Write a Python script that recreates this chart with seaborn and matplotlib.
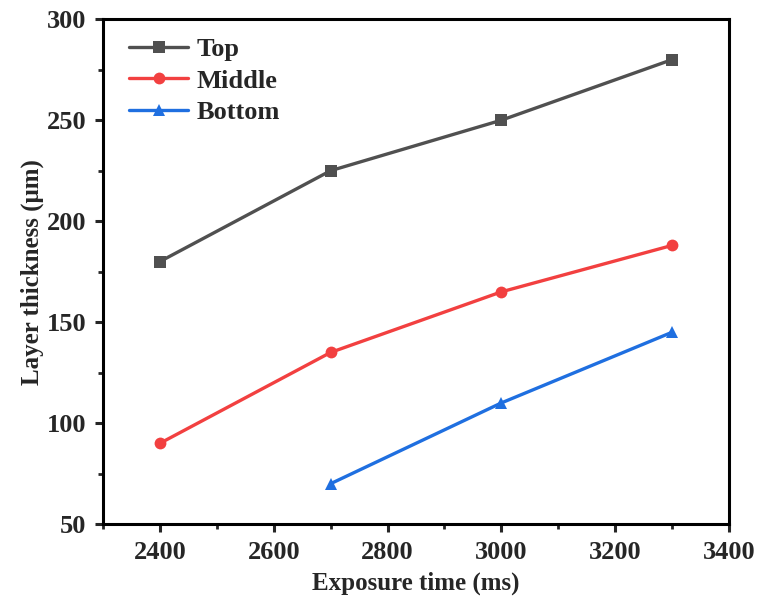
import numpy as np
import pandas as pd
import seaborn as sns
import matplotlib
matplotlib.use("Agg")
import matplotlib.pyplot as plt
from matplotlib.ticker import MultipleLocator

top_x = [2400, 2700, 3000, 3300]
top_y = [180, 225, 250, 280]
mid_x = [2400, 2700, 3000, 3300]
mid_y = [90, 135, 165, 188]
bot_x = [2700, 3000, 3300]
bot_y = [70, 110, 145]
series = ["Top", "Middle", "Bottom"]

df = pd.concat([
    pd.DataFrame({"x": top_x, "y": top_y, "s": "Top"}),
    pd.DataFrame({"x": mid_x, "y": mid_y, "s": "Middle"}),
    pd.DataFrame({"x": bot_x, "y": bot_y, "s": "Bottom"}),
])

sns.set_style("ticks")
plt.rcParams['font.family'] = ['Liberation Serif', 'DejaVu Serif']
plt.rcParams['font.weight'] = 'bold'

fig = plt.figure(figsize=(7.59, 6.01), dpi=100)
ax = fig.add_axes([0.1357, 0.128, 0.8248, 0.84])

palette = {"Top": "#505050", "Middle": "#f24040", "Bottom": "#1f6fe0"}
markers = {"Top": "s", "Middle": "o", "Bottom": "^"}
sns.lineplot(data=df, x="x", y="y", hue="s", style="s", hue_order=series,
             style_order=series, palette=palette, markers=markers, dashes=False,
             linewidth=2.4, markersize=8.5, markeredgewidth=0, ax=ax)

ax.set_xlim(2300, 3400)
ax.set_ylim(50, 300)
ax.xaxis.set_major_locator(MultipleLocator(200))
ax.xaxis.set_minor_locator(MultipleLocator(100))
ax.yaxis.set_major_locator(MultipleLocator(50))
ax.yaxis.set_minor_locator(MultipleLocator(25))
for s in ax.spines.values():
    s.set_linewidth(2.2)
    s.set_color("black")
ax.tick_params(which="major", direction="out", length=6, width=2.2, labelsize=19, pad=6)
ax.tick_params(which="minor", direction="out", length=3.5, width=2.0)
for lab in ax.get_xticklabels() + ax.get_yticklabels():
    lab.set_fontweight("bold")
ax.set_xlabel("Exposure time (ms)", fontsize=18, fontweight="bold", labelpad=6)
ax.set_ylabel("Layer thickness (\u03bcm)", fontsize=18, fontweight="bold", labelpad=2)

leg = ax.legend(loc="upper left", frameon=False, fontsize=19, handlelength=2.25,
                handletextpad=0.3, borderaxespad=0.3, labelspacing=0.3,
                bbox_to_anchor=(0.012, 1.0))
for t in leg.get_texts():
    t.set_fontweight("bold")

fig.savefig("out.png", dpi=100)
